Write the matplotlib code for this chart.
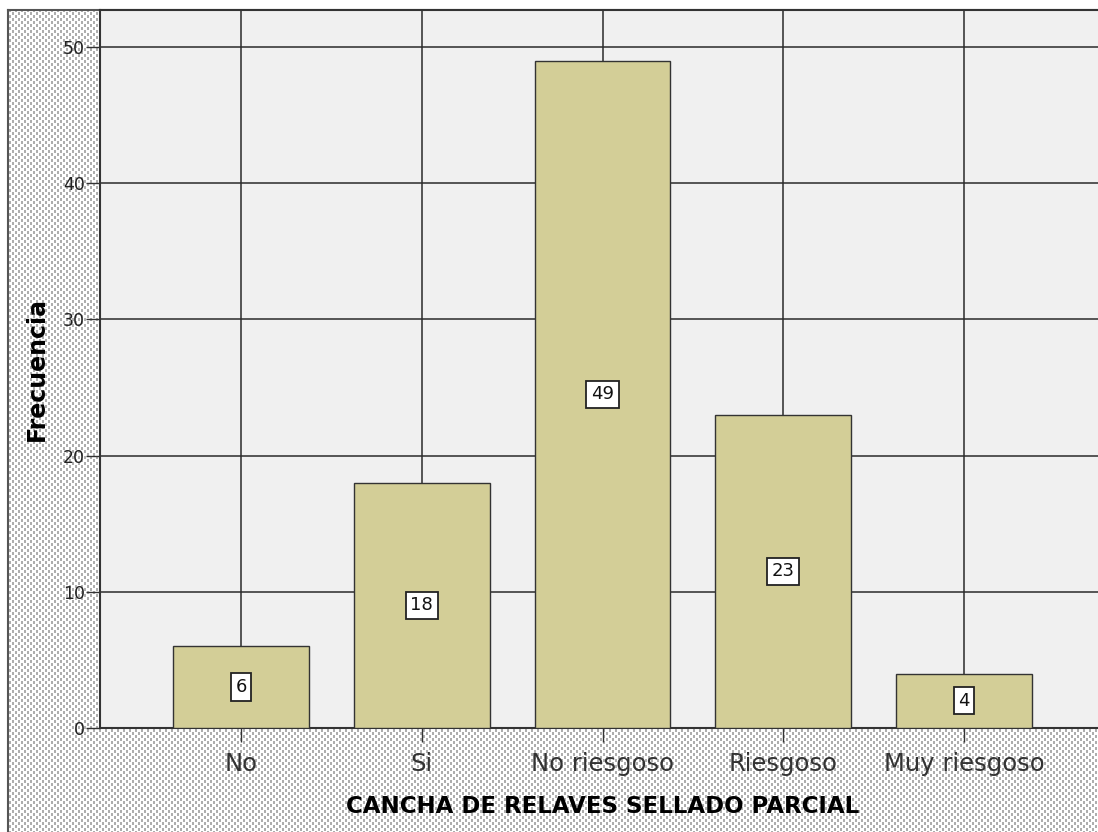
import numpy as np
import matplotlib
matplotlib.use("Agg")
import matplotlib.pyplot as plt

categories = ["No", "Si", "No riesgoso", "Riesgoso", "Muy riesgoso"]
values = [6, 18, 49, 23, 4]
yticks = [0, 10, 20, 30, 40, 50]

W, H = 1098, 832
fig = plt.figure(figsize=(W / 100, H / 100), dpi=100)

# patterned background
bg = fig.add_axes([0, 0, 1, 1])
pat = np.full((H, W), 1.0)
yy, xx = np.mgrid[0:H, 0:W]
r = yy % 6
c = xx % 6
dots = ((r < 3) & (c < 2)) | ((r >= 3) & (c >= 3) & (c < 5))
pat[dots] = 0.68
pat[:, :8] = 1.0
pat[:10, :] = 1.0
bg.imshow(pat, cmap="gray", vmin=0, vmax=1, interpolation="nearest",
          extent=[0, W, H, 0], aspect="auto")
bg.plot([8, 8], [10, H], color="#555555", lw=1.5)
bg.plot([8, W], [10, 10], color="#555555", lw=1.5)
bg.set_xlim(0, W)
bg.set_ylim(H, 0)
bg.axis("off")

left = 100 / W
bottom = (H - 728) / H
top = (H - 10) / H
ax = fig.add_axes([left, bottom, (1105 - 100) / W, top - bottom])
ax.set_facecolor("#F0F0F0")
x = np.arange(len(categories))
ax.set_axisbelow(True)
ax.grid(True, color="#2a2a2a", lw=1.1)
ax.bar(x, values, width=0.75, color="#D3CE97", edgecolor="#333333", lw=1.0, zorder=3)
for xi, v in zip(x, values):
    ax.text(xi, v / 2, str(v), ha="center", va="center", fontsize=13,
            family="DejaVu Sans", zorder=4, color="#111111",
            bbox=dict(boxstyle="square,pad=0.26", fc="white", ec="#222222", lw=1.3))
ax.set_xlim(-0.78, 4.78)
ax.set_ylim(0, 52.72)
ax.set_yticks(yticks)
ax.set_xticks(x)
ax.set_xticklabels(categories, fontsize=17.5, family="DejaVu Sans", color="#333333")
ax.set_yticklabels([str(t) for t in yticks], fontsize=12.5, family="DejaVu Sans", color="#222222")
ax.tick_params(axis="y", length=10, width=1, color="#333333", pad=1)
ax.tick_params(axis="x", length=10, width=1, color="#333333", pad=7)
for s in ["left", "top", "bottom"]:
    ax.spines[s].set_color("#333333")
    ax.spines[s].set_linewidth(1.5)
ax.spines["right"].set_visible(False)
ax.set_xlabel("CANCHA DE RELAVES SELLADO PARCIAL", fontsize=16.5, fontweight="bold",
              family="DejaVu Sans", labelpad=14)
ax.set_ylabel("Frecuencia", fontsize=17, fontweight="bold", family="DejaVu Sans", labelpad=10)

fig.savefig("out.png", dpi=100)
